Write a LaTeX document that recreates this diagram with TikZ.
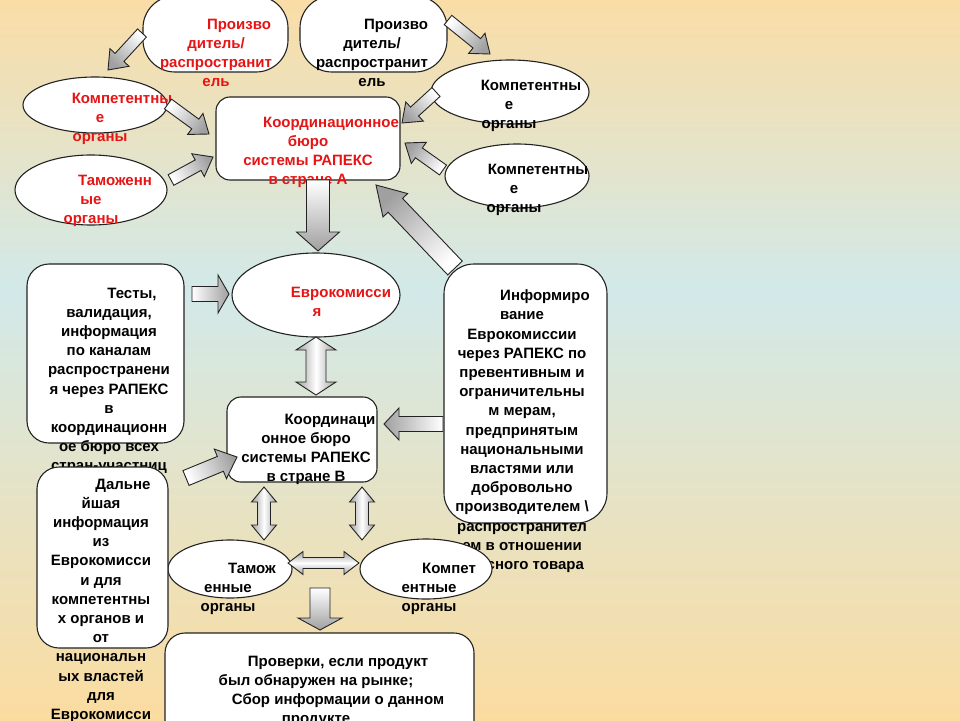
\documentclass[tikz,border=0pt]{standalone}
\usepackage{fontspec}
\setmainfont{Liberation Sans}
\usetikzlibrary{calc,shapes.geometric}
\definecolor{bgtop}{RGB}{250,221,166}
\definecolor{bgmid}{RGB}{210,233,233}
\definecolor{bgbot}{RGB}{251,220,160}
\definecolor{redtxt}{RGB}{230,20,20}
\definecolor{edge}{RGB}{35,35,35}
\definecolor{arrgray}{RGB}{160,160,160}
\tikzset{
  shp/.style={draw=edge, fill=white, line width=1.1pt, inner sep=0pt},
  rbox/.style={shp, rectangle, rounded corners=#1},
  ell/.style={shp, ellipse},
  txt/.style={font=\fontsize{15}{19.2}\selectfont\bfseries, align=center, inner sep=0pt, anchor=north},
  redt/.style={txt, text=redtxt},
  arrowline/.style={draw=edge, line width=0.9pt, line join=miter}
}
\newcommand\sarrow[5]{%
  \pgfmathanglebetweenpoints{\pgfpointanchor{#1}{center}}{\pgfpointanchor{#2}{center}}%
  \pgfmathsetmacro\arrang{\pgfmathresult+90}%
  \coordinate (tmpC) at ($(#2)!#5!(#1)$);%
  \shade[arrowline, top color=white, bottom color=arrgray, shading angle=\arrang]
    ($(#1)!#3!90:(#2)$) -- ($(tmpC)!#3!-90:(#1)$) -- ($(tmpC)!#4!-90:(#1)$) -- (#2)
    -- ($(tmpC)!#4!90:(#1)$) -- ($(tmpC)!#3!90:(#1)$) -- ($(#1)!#3!-90:(#2)$) -- cycle;%
}
\newcommand\darrow[5]{%
  \pgfmathanglebetweenpoints{\pgfpointanchor{#1}{center}}{\pgfpointanchor{#2}{center}}%
  \pgfmathsetmacro\arrang{\pgfmathresult}%
  \coordinate (tmpA) at ($(#1)!#5!(#2)$);%
  \coordinate (tmpB) at ($(#2)!#5!(#1)$);%
  \shade[arrowline, top color=arrgray, bottom color=arrgray, middle color=white, shading angle=\arrang]
    (#1) -- ($(tmpA)!#4!90:(#2)$) -- ($(tmpA)!#3!90:(#2)$) -- ($(tmpB)!#3!-90:(#1)$)
    -- ($(tmpB)!#4!-90:(#1)$) -- (#2) -- ($(tmpB)!#4!90:(#1)$) -- ($(tmpB)!#3!90:(#1)$)
    -- ($(tmpA)!#3!-90:(#2)$) -- ($(tmpA)!#4!-90:(#2)$) -- cycle;%
}
\begin{document}
\begin{tikzpicture}[x=1pt,y=-1pt]
\useasboundingbox (0,0) rectangle (960,720);
\clip (0,0) rectangle (960,720);
\shade[top color=bgtop, bottom color=bgmid] (0,0) rectangle (960,290);
\shade[top color=bgmid, bottom color=bgbot] (0,289.5) rectangle (960,720);

% shapes
\node[rbox=32pt, minimum width=145pt, minimum height=76pt] (prodL) at (215.5,34) {};
\node[rbox=32pt, minimum width=147pt, minimum height=76pt] (prodR) at (373.5,34) {};
\node[ell, minimum width=144pt, minimum height=56pt] (kompL) at (95,105) {};
\node[ell, minimum width=152pt, minimum height=70pt] (tamL) at (91,190) {};
\node[rbox=14pt, minimum width=184pt, minimum height=83pt] (coordA) at (308,138.5) {};
\node[ell, minimum width=158pt, minimum height=64pt] (kompR1) at (510,92) {};
\node[ell, minimum width=144pt, minimum height=64pt] (kompR2) at (517,176) {};
\node[ell, minimum width=168pt, minimum height=84pt] (euro) at (316,295) {};
\node[rbox=22pt, minimum width=157pt, minimum height=179pt] (tests) at (105.5,353.5) {};
\node[rbox=14pt, minimum width=150pt, minimum height=85pt] (coordB) at (302,439.5) {};
\node[rbox=30pt, minimum width=163pt, minimum height=259pt] (inform) at (525.5,393.5) {};
\node[ell, minimum width=124pt, minimum height=58pt] (tamB) at (230,569) {};
\node[rbox=20pt, minimum width=309pt, minimum height=112pt] (checks) at (319.5,689) {};

% texts
\node[redt] (tProdL) at (216,18.6) {\hspace*{46pt}Произво\\дитель/\\распространит\\ель};
\node[txt] (tProdR) at (372,18.6) {\hspace*{48pt}Произво\\дитель/\\распространит\\ель};
\node[redt] (tKompL) at (100,92.6) {\hspace*{44pt}Компетентны\\е\\органы};
\node[redt] (tTamL) at (91,174.6) {\hspace*{48pt}Таможенн\\ые\\органы};
\node[redt] (tCoordA) at (308,116.6) {\hspace*{46pt}Координационное\\бюро\\системы РАПЕКС\\в стране А};
\node[txt] (tKompR1) at (509,79.6) {\hspace*{44pt}Компетентны\\е\\органы};
\node[txt] (tKompR2) at (514,163.6) {\hspace*{48pt}Компетентны\\е\\органы};
\node[redt] (tEuro) at (317,286.6) {\hspace*{48pt}Еврокомисси\\я};
\node[txt] (tTests) at (109,287.6) {\hspace*{46pt}Тесты,\\валидация,\\информация\\по каналам\\распространени\\я через РАПЕКС\\в\\координационн\\ое бюро всех\\стран-участниц};
\node[txt] (tCoordB) at (306,413.6) {\hspace*{48pt}Координаци\\онное бюро\\системы РАПЕКС\\в стране В};
\node[txt] (tInform) at (522,289.6) {\hspace*{46pt}Информиро\\вание\\Еврокомиссии\\через РАПЕКС по\\превентивным и\\ограничительны\\м мерам,\\предпринятым\\национальными\\властями или\\добровольно\\производителем \textbackslash\\распространител\\ем в отношении\\опасного товара};

% shapes drawn over texts
\node[rbox=22pt, minimum width=131pt, minimum height=181pt] (further) at (102.5,557.5) {};
\node[ell, minimum width=132pt, minimum height=60pt] (kompB) at (426,569) {};

\node[txt] (tFurther) at (101,478.6) {\hspace*{44pt}Дальне\\йшая\\информация\\из\\Еврокомисси\\и для\\компетентны\\х органов и\\от\\национальн\\ых властей\\для\\Еврокомисси};
\node[txt] (tTamB) at (228,562.6) {\hspace*{48pt}Тамож\\енные\\органы};
\node[txt] (tKompB) at (429,562.6) {\hspace*{40pt}Компет\\ентные\\органы};
\node[txt] (tChecks) at (316,655.6) {\hspace*{44pt}Проверки, если продукт\\был обнаружен на рынке;\\\hspace*{44pt}Сбор информации о данном\\продукте};

% arrow end points
\coordinate (a1) at (142,33);  \coordinate (a2) at (108,70);
\coordinate (b1) at (168,104); \coordinate (b2) at (209,134);
\coordinate (c1) at (171,180); \coordinate (c2) at (213,157);
\coordinate (d1) at (448,20);  \coordinate (d2) at (490,54);
\coordinate (e1) at (436,92);  \coordinate (e2) at (402,123);
\coordinate (f1) at (443,170); \coordinate (f2) at (405,143);
\coordinate (g1) at (318,180); \coordinate (g2) at (318,251);
\coordinate (h1) at (455,268); \coordinate (h2) at (376,185);
\coordinate (i1) at (192,294); \coordinate (i2) at (229,294);
\coordinate (j1) at (316,337); \coordinate (j2) at (316,395);
\coordinate (k1) at (443,424); \coordinate (k2) at (384,424);
\coordinate (l1) at (186,478); \coordinate (l2) at (237,457);
\coordinate (m1) at (264,487); \coordinate (m2) at (264,540);
\coordinate (n1) at (362,487); \coordinate (n2) at (362,540);
\coordinate (o1) at (288,563); \coordinate (o2) at (359,563);
\coordinate (p1) at (320,588); \coordinate (p2) at (320,630);

% arrows
\sarrow{a1}{a2}{6pt}{13pt}{17pt}
\sarrow{b1}{b2}{6pt}{13pt}{17pt}
\sarrow{c1}{c2}{6pt}{13pt}{17pt}
\sarrow{d1}{d2}{6pt}{13pt}{17pt}
\sarrow{e1}{e2}{6pt}{13pt}{17pt}
\sarrow{f1}{f2}{6pt}{13pt}{17pt}
\sarrow{g1}{g2}{11.5pt}{21.5pt}{19pt}
\sarrow{h1}{h2}{10pt}{17pt}{28pt}
\sarrow{i1}{i2}{7.5pt}{19pt}{11pt}
\darrow{j1}{j2}{10pt}{20pt}{13pt}
\sarrow{k1}{k2}{7.5pt}{16pt}{15pt}
\sarrow{l1}{l2}{8pt}{16pt}{18pt}
\darrow{m1}{m2}{6.5pt}{12.5pt}{15pt}
\darrow{n1}{n2}{6.5pt}{12.5pt}{15pt}
\darrow{o1}{o2}{5.5pt}{11.5pt}{15pt}
\sarrow{p1}{p2}{10pt}{22pt}{12pt}
\end{tikzpicture}
\end{document}
